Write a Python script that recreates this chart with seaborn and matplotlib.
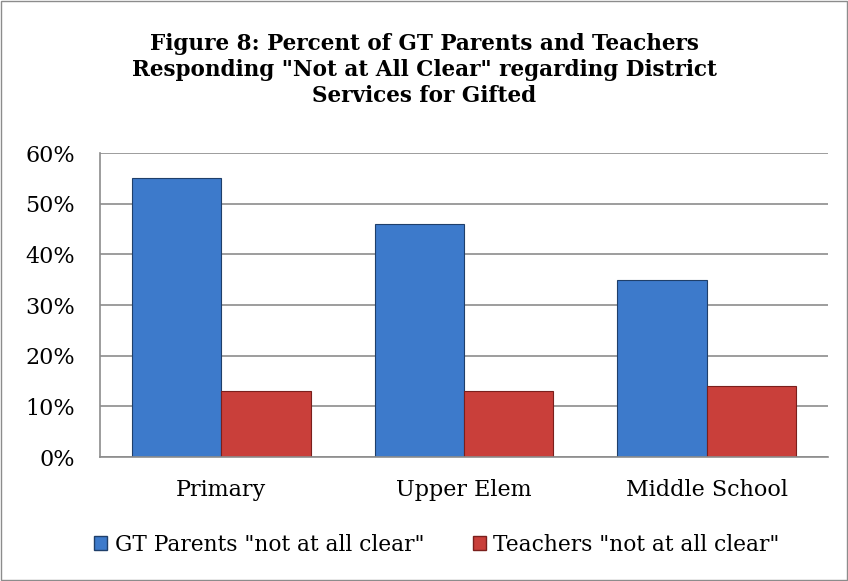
import matplotlib
matplotlib.use("Agg")
import matplotlib.pyplot as plt
import seaborn as sns
import pandas as pd
from matplotlib.ticker import PercentFormatter
from matplotlib.patches import Rectangle

categories = ["Primary", "Upper Elem", "Middle School"]
series_names = ['GT Parents "not at all clear"', 'Teachers "not at all clear"']
parents = [55, 46, 35]
teachers = [13, 13, 14]
yticks = [0, 10, 20, 30, 40, 50, 60]
title = 'Figure 8: Percent of GT Parents and Teachers\nResponding "Not at All Clear" regarding District\nServices for Gifted'

df = pd.DataFrame({
    "cat": categories * 2,
    "series": [series_names[0]] * 3 + [series_names[1]] * 3,
    "val": parents + teachers,
})

sns.set_style("white")
plt.rcParams["font.family"] = ["DejaVu Serif"]
plt.rcParams["text.color"] = "black"

fig = plt.figure(figsize=(8.48, 5.81), dpi=100)
ax = fig.add_axes([100/848, 1 - 457/581, 728/848, 304/581])

colors = ["#3D7ACB", "#C93F3A"]
sns.barplot(data=df, x="cat", y="val", hue="series", palette=colors,
            width=0.737, ax=ax, saturation=1, legend=False,
            edgecolor="#1f3f6a", linewidth=0.8)
for i, p in enumerate(ax.patches):
    if i >= 3:
        p.set_edgecolor("#7a1f1c")

ax.set_ylim(0, 60)
ax.set_yticks(yticks)
ax.yaxis.set_major_formatter(PercentFormatter(decimals=0))
ax.set_xlabel("")
ax.set_ylabel("")
ax.set_axisbelow(True)
ax.yaxis.grid(True, color="#8c8c8c", linewidth=1.2)
for s in ["top", "right"]:
    ax.spines[s].set_visible(False)
ax.spines["left"].set_color("#8c8c8c")
ax.spines["bottom"].set_color("#8c8c8c")
ax.spines["left"].set_linewidth(1.2)
ax.spines["bottom"].set_linewidth(1.2)
ax.tick_params(axis="y", labelsize=16, length=0, pad=18, labelcolor="black")
ax.tick_params(axis="x", labelsize=16, length=0, pad=16, labelcolor="black")

fig.text(0.5, 1 - 70/581, title, ha="center", va="center", fontsize=15.5,
         fontweight="bold", linespacing=1.25, color="black")

handles = [Rectangle((0, 0), 1, 1, facecolor=colors[0], edgecolor="#1f3f6a"),
           Rectangle((0, 0), 1, 1, facecolor=colors[1], edgecolor="#7a1f1c")]
fig.legend(handles, series_names, loc="center", bbox_to_anchor=(437/848, 1 - 545/581),
           ncol=2, frameon=False, fontsize=15.7, handlelength=0.6, handleheight=0.6,
           handletextpad=0.35, columnspacing=2.2, labelcolor="black")

fig.patches.append(Rectangle((1/848, 1/581), 846/848, 579/581, transform=fig.transFigure,
                             fill=False, edgecolor="#8c8c8c", linewidth=1))

fig.savefig("out.png", dpi=100)
